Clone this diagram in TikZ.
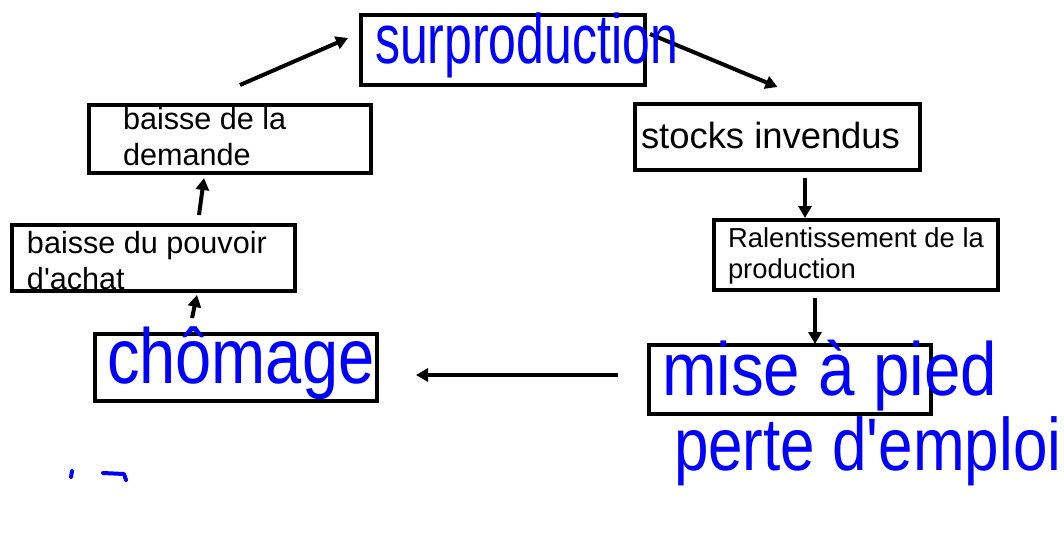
\documentclass[tikz,border=0pt]{standalone}
\usepackage{fontspec}
\setmainfont{Liberation Sans}
\usepackage{graphicx}
\usetikzlibrary{arrows.meta,calc}
\begin{document}
\begin{tikzpicture}[x=1pt,y=-1pt,
  box/.style={draw=black,line width=4pt,inner sep=0pt,outer sep=0pt},
  arr/.style={line width=4pt,-{Triangle[length=12pt,width=13pt]}},
  lbl/.style={anchor=base west,inner sep=0pt,outer sep=0pt},
  hand/.style={anchor=base west,inner sep=0pt,outer sep=0pt,text=blue},
  penstroke/.style={draw=blue,line width=4pt,line cap=round,line join=round}]
\useasboundingbox[fill=white] (0,0) rectangle (1064,538);

% boxes
\node[box,minimum width=284pt,minimum height=70pt] (surp)  at (503,50) {};
\node[box,minimum width=282pt,minimum height=68pt] (dem)   at (230,139) {};
\node[box,minimum width=283pt,minimum height=66pt] (pouv)  at (153.5,258) {};
\node[box,minimum width=285pt,minimum height=66pt] (stock) at (777.5,137) {};
\node[box,minimum width=284pt,minimum height=70pt] (ral)   at (856,255) {};
\node[box,minimum width=282pt,minimum height=67pt] (chom)  at (236,367.5) {};
\node[box,minimum width=282pt,minimum height=69pt] (mise)  at (790,379.5) {};

% typed labels
\node[lbl,font=\fontsize{30.6}{36}\selectfont] (tdem1) at (123,129) {baisse de la};
\node[lbl,font=\fontsize{30.6}{36}\selectfont] (tdem2) at (123,165) {demande};
\node[lbl,font=\fontsize{30.6}{36}\selectfont] (tpouv1) at (27,253) {baisse du pouvoir};
\node[lbl,font=\fontsize{30.6}{36}\selectfont] (tpouv2) at (27,289) {d\textquotesingle achat};
\node[lbl,font=\fontsize{36.4}{40}\selectfont] (tstock) at (641,148) {stocks invendus};
\node[lbl,font=\fontsize{27.4}{31}\selectfont] (tral1) at (728,247) {Ralentissement de la};
\node[lbl,font=\fontsize{27.4}{31}\selectfont] (tral2) at (728,278) {production};

% connectors
\draw[arr] ($(dem.north)+(10,-20)$) -- ($(surp.west)+(-13,-12)$);
\draw[arr] ($(surp.east)+(5,-16)$) -- ($(stock.north)+(0,-17)$);
\draw[arr] ($(stock.south)+(27.5,8)$) -- ($(ral.north)+(-51,-2)$);
\draw[arr] ($(ral.south)+(-41,8)$) -- ($(mise.north)+(25,-1)$);
\draw[arr] ($(mise.west)+(-31,-4.5)$) -- ($(chom.east)+(39,7.5)$);
\draw[arr] ($(chom.north)+(-44,-16)$) -- ($(pouv.south)+(43.5,4)$);
\draw[arr] ($(pouv.north)+(45.5,-10)$) -- ($(dem.south)+(-26,5)$);

% handwritten labels
\node[hand] (hsurp) at (375,63) {\scalebox{1}[1.4]{\fontsize{50}{50}\selectfont surproduction}};
\node[hand] (hchom) at (107,383) {\scalebox{1}[1.2]{\fontsize{65}{65}\selectfont chômage}};
\node[hand] (hmise) at (662,395) {\scalebox{1}[1.15]{\fontsize{65.5}{65}\selectfont mise à pied}};
\node[hand] (hperte) at (674,470) {\scalebox{1}[1.2]{\fontsize{62}{62}\selectfont perte d\textquotesingle emploi}};

% stray pen marks
\draw[penstroke] (72,471) -- (71,477);
\draw[penstroke] (103,473) -- (124,474) -- (126,480);
\end{tikzpicture}
\end{document}
